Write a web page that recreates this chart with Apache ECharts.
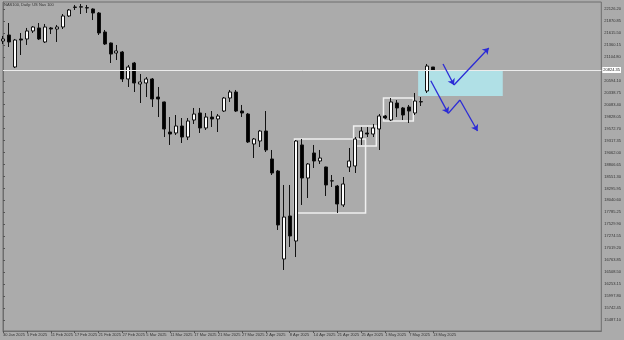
<!DOCTYPE html>
<html><head><meta charset="utf-8">
<script src="https://cdn.jsdelivr.net/npm/echarts@6/dist/echarts.min.js"></script>
<style>html,body{margin:0;padding:0;background:#ababab}#c{width:624px;height:340px}</style>
</head><body><div id="c"></div>
<script>
const titleText = 'NAS100, Daily: US Nas 100';
const dates = [
'30 Jan 2025','31 Jan 2025',
'3 Feb 2025','4 Feb 2025','5 Feb 2025','6 Feb 2025','7 Feb 2025','10 Feb 2025','11 Feb 2025','12 Feb 2025','13 Feb 2025','14 Feb 2025',
'17 Feb 2025','18 Feb 2025','19 Feb 2025','20 Feb 2025','21 Feb 2025','24 Feb 2025','25 Feb 2025','26 Feb 2025','27 Feb 2025','28 Feb 2025',
'3 Mar 2025','4 Mar 2025','5 Mar 2025','6 Mar 2025','7 Mar 2025','10 Mar 2025','11 Mar 2025','12 Mar 2025','13 Mar 2025','14 Mar 2025',
'17 Mar 2025','18 Mar 2025','19 Mar 2025','20 Mar 2025','21 Mar 2025','24 Mar 2025','25 Mar 2025','26 Mar 2025','27 Mar 2025','28 Mar 2025','31 Mar 2025',
'1 Apr 2025','2 Apr 2025','3 Apr 2025','4 Apr 2025','7 Apr 2025','8 Apr 2025','9 Apr 2025','10 Apr 2025','11 Apr 2025',
'14 Apr 2025','15 Apr 2025','16 Apr 2025','17 Apr 2025','21 Apr 2025','22 Apr 2025','23 Apr 2025','24 Apr 2025','25 Apr 2025',
'28 Apr 2025','29 Apr 2025','30 Apr 2025','1 May 2025','2 May 2025','5 May 2025','6 May 2025','7 May 2025','8 May 2025','9 May 2025',
'12 May 2025','13 May 2025'
];
const openP = [21443,21571,20888,21486,21486,21657,21721,21422,21721,21699,21742,21977,22158,22165,22155,22126,22041,21635,21400,21187,21208,20632,20973,20525,20546,20632,20247,20141,19500,19479,19628,19393,19756,19906,19586,19820,19778,19948,20226,20354,19948,19884,19244,19308,19521,18924,18667,16789,17707,17173,19223,18518,19052,18881,18753,18454,18347,17942,18753,18774,19372,19479,19457,19564,19842,19756,20119,20013,20034,19906,20141,20375,20888];
const closeP = [21486,21422,21464,21464,21657,21742,21486,21742,21699,21742,21977,22105,22169,22176,22148,22041,21614,21379,21165,21230,20632,20888,20546,20568,20632,20205,20205,19564,19457,19628,19393,19735,19884,19586,19820,19778,19842,20226,20354,19948,19906,19287,19351,19521,19116,18625,17515,17685,17280,19308,18518,18817,18881,18945,18369,18460,17963,18390,18881,19351,19521,19457,19586,19842,19799,20141,20013,19863,19948,20162,20150,20909,20824];
const lowP = [21379,21315,20866,21144,21358,21614,21464,21400,21592,21422,21699,21955,22105,22019,22041,21891,21571,21358,20973,21037,20568,20461,20354,20119,20247,20034,19820,19393,19223,19436,19265,19329,19671,19479,19543,19607,19500,19927,20141,19927,19820,19265,18945,19180,19073,18582,17408,16554,17045,16831,17942,18091,18732,18817,18134,18326,17771,17899,18646,18625,19223,19393,19393,19116,19778,19735,19820,19756,19692,19863,20055,20333,20824];
const highP = [21550,21827,21486,21614,21721,21763,21827,21806,21742,21785,22019,22126,22212,22233,22212,22140,22062,21678,21410,21358,21230,20931,20995,20738,20674,20653,20461,20150,19820,19863,19799,19799,20013,20013,19906,19948,19884,20247,20397,20397,20077,19906,19372,19543,19948,19116,18689,18369,18369,19329,19351,18838,19223,19116,18760,18582,18369,18539,19159,19393,19607,19607,19671,19884,19863,20226,20183,20034,20077,20333,20247,20952,20888];
const yTicks = [22126.20,21870.85,21615.50,21360.15,21104.80,20594.10,20338.75,20083.40,19828.05,19572.70,19317.35,19062.00,18806.65,18551.30,18295.95,18040.60,17785.25,17529.90,17274.55,17019.20,16763.85,16508.50,16253.15,15997.80,15742.45,15487.10];
const xTickIdx = [0,4,8,12,16,20,24,28,32,36,40,44,48,52,56,60,64,68,72];
const currentPrice = 20824.35;
// annotations in data coordinates: [barIndex, price]
const zone = [[69.5, 20824], [83.67, 20269]];
const boxes = [
  [[48.8, 19351], [60.7, 17771]],
  [[58.7, 19628], [62.5, 19201]],
  [[63.7, 20226], [68.7, 19735]]
];
const upPath = [[73.67, 20952], [75.5, 20504], [81.33, 21294]];
const downPath = [[71.62, 20595], [74.55, 19899], [76.5, 20183], [79.45, 19521]];

const candleData = openP.map((o, i) => [i, o, closeP[i], lowP[i], highP[i]]);
const blue = '#2b2bd6';
function segs(path, heads) {
  const out = [];
  for (let i = 0; i < path.length - 1; i++) {
    out.push([{coord: path[i], symbol: 'none'}, {coord: path[i + 1], symbol: heads[i] ? 'arrow' : 'none'}]);
  }
  return out;
}
const chart = echarts.init(document.getElementById('c'), null, {renderer: 'canvas', width: 624, height: 340});
chart.setOption({
  animation: false,
  backgroundColor: '#ababab',
  textStyle: {fontFamily: 'Liberation Sans, Arial, sans-serif'},
  graphic: [{type: 'text', left: 4, top: 3, style: {text: titleText, fontSize: 4, fill: '#333', fontFamily: 'Liberation Sans'}}],
  grid: {left: 1, right: 22, top: 2, bottom: 9, show: true, borderColor: '#6e6e6e', borderWidth: 1, backgroundColor: 'transparent'},
  xAxis: {
    type: 'value', min: 0, max: 100.17,
    splitLine: {show: false},
    axisLine: {show: true, lineStyle: {color: '#6e6e6e'}},
    axisTick: {show: true, length: 2, customValues: xTickIdx, lineStyle: {color: '#555'}},
    axisLabel: {customValues: xTickIdx, formatter: v => dates[Math.round(v)] || '', fontSize: 4, color: '#333', align: 'left', margin: 2, showMinLabel: true, showMaxLabel: true}
  },
  yAxis: {
    type: 'value', position: 'right', min: 15251.5, max: 22275.65, scale: true,
    splitLine: {show: false},
    axisLine: {show: true, lineStyle: {color: '#6e6e6e'}},
    axisTick: {show: true, length: 2, inside: false, customValues: yTicks, lineStyle: {color: '#555'}},
    axisLabel: {customValues: yTicks, formatter: v => v.toFixed(2), fontSize: 4, color: '#333', margin: 3}
  },
  series: [
    {
      type: 'line', data: [], z: 1, silent: true,
      markArea: {silent: true, itemStyle: {color: '#b0e0e6'}, data: [[{coord: zone[0]}, {coord: zone[1]}]]},
      markLine: {
        silent: true, symbol: ['none', 'none'],
        lineStyle: {color: '#ececec', width: 1, type: 'solid'},
        label: {show: true, position: 'end', distance: 1, formatter: currentPrice.toFixed(2), fontSize: 4, color: '#222', backgroundColor: '#ffffff', padding: [1, 1]},
        data: [{yAxis: currentPrice}]
      }
    },
    {
      type: 'candlestick', z: 2, barWidth: 3.5,
      data: candleData,
      itemStyle: {color: '#ffffff', color0: '#000000', borderColor: '#111111', borderColor0: '#111111', borderWidth: 1}
    },
    {
      type: 'line', data: [], z: 3, silent: true,
      markArea: {silent: true, itemStyle: {color: 'rgba(0,0,0,0)', borderColor: '#f0f0f0', borderWidth: 1.5},
        data: boxes.map(b => [{coord: b[0]}, {coord: b[1]}])},
      markLine: {
        silent: true, symbolSize: 6,
        lineStyle: {color: blue, width: 1.3, type: 'solid'},
        label: {show: false},
        data: segs(upPath, [true, true]).concat(segs(downPath, [true, false, true]))
      }
    }
  ]
});
</script>
</body></html>
